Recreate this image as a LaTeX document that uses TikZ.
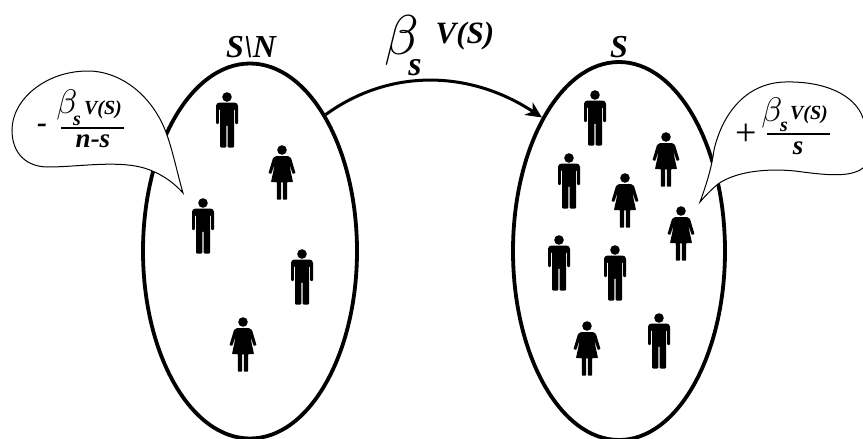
\documentclass[tikz,border=0pt]{standalone}
\usepackage{fontspec}
\setmainfont{Liberation Serif}
\usetikzlibrary{shapes.geometric,arrows.meta}
\newcommand{\fsz}[1]{\fontsize{#1}{#1}\selectfont}
\tikzset{
  group/.style={draw=black,line width=3.8pt,ellipse,inner sep=0pt},
  bubble/.style={draw=black,line width=1pt,fill=white},
  flow/.style={draw=black,line width=3pt,-{Stealth[length=16pt,width=15pt,inset=5pt]}},
  txt/.style={inner sep=0pt,font=\bfseries\itshape},
  bet/.style={inner sep=0pt},
  fracbar/.style={draw=black,line width=1.6pt},
  pics/man/.style={code={
    \fill (0,0) circle (4.8);
    \fill (-11,27) [rounded corners=1pt] -- (-11,9) [rounded corners=3.5pt] -- (-11,5.5) -- (11,5.5) [rounded corners=1pt] -- (11,27) -- (8.2,27) -- (8.2,12) -- (7,12) -- (7,50.5) -- (0.7,50.5) -- (0.7,28) -- (-0.7,28) -- (-0.7,50.5) -- (-7,50.5) -- (-7,12) -- (-8.2,12) -- (-8.2,27) -- cycle;
  }},
  pics/woman/.style={code={
    \fill (0,0) circle (4.8);
    \fill[rounded corners=0.6pt] (-6,6) -- (6,6) -- (9,8) -- (13.5,23) -- (10.8,24) -- (7,13.5) -- (11,32) -- (5.2,32) -- (5.2,49.5) -- (0.8,49.5) -- (0.8,32) -- (-0.8,32) -- (-0.8,49.5) -- (-5.2,49.5) -- (-5.2,32) -- (-11,32) -- (-7,13.5) -- (-10.8,24) -- (-13.5,23) -- (-9,8) -- cycle;
  }}
}
\begin{document}
\begin{tikzpicture}[x=1pt,y=-1pt]
\useasboundingbox (0,0) rectangle (863,439);
\node[group,minimum width=214pt,minimum height=375pt] (L) at (250,251) {};
\node[group,minimum width=212pt,minimum height=378pt] (R) at (619,251) {};
\draw[flow] (L.61.6) .. controls (390,68) and (470,70) .. (R.120.7);
% speech bubbles
\draw[bubble] (183,193) .. controls (177,172) and (173,152) .. (167,135)
  .. controls (153,95) and (120,71) .. (88,71)
  .. controls (45,71) and (12,100) .. (12,130)
  .. controls (12,155) and (28,167) .. (48,167)
  .. controls (80,167) and (122,159) .. (150,170)
  .. controls (165,176) and (175,184) .. (183,193) -- cycle;
\draw[bubble] (700,202) .. controls (708,180) and (712,165) .. (714,150)
  .. controls (722,115) and (745,83) .. (785,82)
  .. controls (825,81) and (855,95) .. (863,118)
  .. controls (872,135) and (872,160) .. (863,168)
  .. controls (850,178) and (825,175) .. (795,171)
  .. controls (765,168) and (735,172) .. (718,184)
  .. controls (712,189) and (706,195) .. (700,202) -- cycle;
% people
\foreach \n/\x/\y in {m1/227/97,m2/203/203,m3/302/254,m4/595/95,m5/569/158,m6/559/240,m7/615/250,m8/659/318}
  \pic (\n) at (\x,\y) {man};
\foreach \n/\x/\y in {w1/282/150,w2/243/322,w3/666/137,w4/625/178,w5/681/211,w6/587/326}
  \pic (\n) at (\x,\y) {woman};
% labels
\node[txt] (tL) at (251,47) {\fsz{32}S\textbackslash N};
\node[txt] (tR) at (619,47) {\fsz{32}S};
\node[bet,scale=5.6] (b0) at (402,40) {$\beta$};
\node[txt] (s0) at (415,68) {\fsz{34}s};
\node[txt] (v0) at (465,36) {\fsz{31}V(S)};
% left fraction
\node[txt] (mn) at (42,128) {\fsz{30}-};
\node[bet,scale=3.4] (b1) at (67,105) {$\beta$};
\node[txt] (s1) at (77,121) {\fsz{20}s};
\node[txt] (v1) at (103,110) {\fsz{20}V(S)};
\coordinate (a1) at (61,128);
\coordinate (a2) at (124,128);
\draw[fracbar] (a1) -- (a2);
\node[txt] (ns) at (93,141) {\fsz{27}n-s};
% right fraction
\node[inner sep=0pt] (pl) at (746,135) {\fsz{38}+};
\node[bet,scale=3.4] (b2) at (772,113) {$\beta$};
\node[txt] (s2) at (784,127) {\fsz{20}s};
\node[txt] (v2) at (809,115) {\fsz{20}V(S)};
\coordinate (a3) at (767,134);
\coordinate (a4) at (830,134);
\draw[fracbar] (a3) -- (a4);
\node[txt] (sd) at (798,148) {\fsz{27}s};
\end{tikzpicture}
\end{document}
